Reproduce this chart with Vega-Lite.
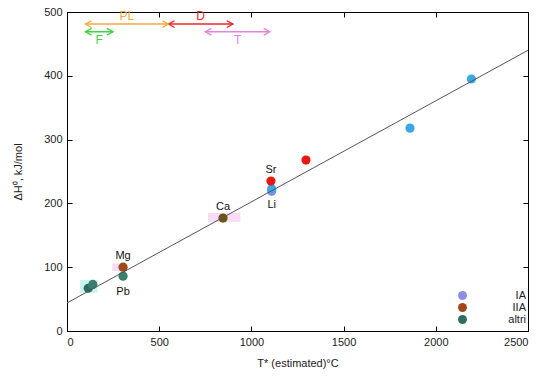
{
  "$schema": "https://vega.github.io/schema/vega-lite/v6.json",
  "width": 461,
  "height": 319,
  "autosize": "none",
  "padding": {"left": 67, "top": 12, "right": 22, "bottom": 45},
  "config": {
    "font": "Liberation Sans",
    "view": {"stroke": "black", "strokeWidth": 1},
    "axis": {"grid": false, "domainColor": "black", "tickColor": "black", "labelColor": "#222", "labelFontSize": 11, "titleFontSize": 11, "titleFontWeight": "normal", "titleColor": "#222", "tickSize": -5, "labelPadding": 10, "format": "d"}
  },
  "datasets": {
    "pts": [
      {"x": 115, "y": 67, "c": "altri", "lab": ""},
      {"x": 140, "y": 73, "c": "altri2", "lab": ""},
      {"x": 304, "y": 86, "c": "altri2", "lab": "Pb"},
      {"x": 304, "y": 100, "c": "IIA", "lab": "Mg"},
      {"x": 846, "y": 177, "c": "Ca", "lab": "Ca"},
      {"x": 1110, "y": 219, "c": "IA", "lab": ""},
      {"x": 1110, "y": 223, "c": "blue", "lab": "Li"},
      {"x": 1106, "y": 235, "c": "red", "lab": "Sr"},
      {"x": 1296, "y": 268, "c": "red", "lab": ""},
      {"x": 1860, "y": 318, "c": "blue", "lab": ""},
      {"x": 2193, "y": 395, "c": "blue", "lab": ""}
    ],
    "fit": [
      {"x": 0, "y": 44},
      {"x": 2500, "y": 440}
    ],
    "boxes": [
      {"x": 765, "x2": 940, "y": 171, "y2": 185, "bc": "#f9dcf3"},
      {"x": 245, "x2": 325, "y": 94, "y2": 106, "bc": "#f9dcf3"},
      {"x": 70, "x2": 165, "y": 60, "y2": 80, "bc": "#c9f5f0"}
    ],
    "arrows": [
      {"x1": 100, "x2": 550, "xm": 325, "y": 481, "lab": "PL", "col": "#f2a93b", "pos": "up"},
      {"x1": 550, "x2": 900, "xm": 725, "y": 481, "lab": "D", "col": "#e8262b", "pos": "up"},
      {"x1": 100, "x2": 250, "xm": 175, "y": 469, "lab": "F", "col": "#3fd23f", "pos": "down"},
      {"x1": 750, "x2": 1100, "xm": 925, "y": 469, "lab": "T", "col": "#e084e0", "pos": "down"}
    ]
  },
  "resolve": {"axis": {"x": "independent", "y": "independent"}},
  "layer": [
    {
      "data": {"name": "boxes"},
      "mark": {"type": "rect"},
      "encoding": {
        "x": {"field": "x", "type": "quantitative", "scale": {"domain": [0, 2500], "nice": false}, "axis": {"orient": "bottom", "values": [0, 500, 1000, 1500, 2000, 2500], "title": "T* (estimated)°C", "titlePadding": 10}},
        "x2": {"field": "x2"},
        "y": {"field": "y", "type": "quantitative", "scale": {"domain": [0, 500], "nice": false}, "axis": {"orient": "left", "values": [0, 100, 200, 300, 400, 500], "title": "ΔH⁰, kJ/mol", "titlePadding": 20}},
        "y2": {"field": "y2"},
        "fill": {"field": "bc", "type": "nominal", "scale": null, "legend": null}
      }
    },
    {
      "data": {"name": "pts"},
      "mark": {"type": "point", "filled": true, "opacity": 1, "size": 85},
      "encoding": {
        "x": {"field": "x", "type": "quantitative", "axis": null},
        "y": {"field": "y", "type": "quantitative", "axis": null},
        "color": {
          "field": "c", "type": "nominal",
          "scale": {"domain": ["IA", "IIA", "altri", "altri2", "Ca", "blue", "red"], "range": ["#8c8ce6", "#a2461b", "#2f6d60", "#3a7f6d", "#6c5213", "#3aa8e4", "#e81a10"]},
          "legend": {"values": ["IA", "IIA", "altri"], "orient": "none", "legendX": 390, "legendY": 278, "title": null, "labelAlign": "right", "labelOffset": 58, "labelFontSize": 11, "labelColor": "#222", "symbolSize": 80, "symbolType": "circle", "rowPadding": 0, "symbolStrokeWidth": 0, "symbolOpacity": 1}
        }
      }
    },
    {
      "data": {"name": "pts"},
      "transform": [{"filter": "datum.lab === 'Mg' || datum.lab === 'Ca' || datum.lab === 'Sr'"}],
      "mark": {"type": "text", "dy": -11, "fontSize": 11, "color": "#111"},
      "encoding": {
        "x": {"field": "x", "type": "quantitative", "axis": null},
        "y": {"field": "y", "type": "quantitative", "axis": null},
        "text": {"field": "lab"}
      }
    },
    {
      "data": {"name": "pts"},
      "transform": [{"filter": "datum.lab === 'Pb' || datum.lab === 'Li'"}],
      "mark": {"type": "text", "dy": 16, "fontSize": 11, "color": "#111"},
      "encoding": {
        "x": {"field": "x", "type": "quantitative", "axis": null},
        "y": {"field": "y", "type": "quantitative", "axis": null},
        "text": {"field": "lab"}
      }
    },
    {
      "data": {"name": "fit"},
      "mark": {"type": "line", "color": "#555", "strokeWidth": 1},
      "encoding": {
        "x": {"field": "x", "type": "quantitative", "axis": {"orient": "top", "labels": false, "title": null, "values": [0, 500, 1000, 1500, 2000, 2500], "domain": false}},
        "y": {"field": "y", "type": "quantitative", "axis": {"orient": "right", "labels": false, "title": null, "values": [0, 100, 200, 300, 400, 500], "domain": false}}
      }
    },
    {
      "data": {"name": "arrows"},
      "mark": {"type": "rule", "strokeWidth": 1.5},
      "encoding": {
        "x": {"field": "x1", "type": "quantitative", "axis": null},
        "x2": {"field": "x2"},
        "y": {"field": "y", "type": "quantitative", "axis": null},
        "stroke": {"field": "col", "type": "nominal", "scale": null, "legend": null}
      }
    },
    {
      "data": {"name": "arrows"},
      "mark": {"type": "point", "shape": "M1,-0.55L0,0L1,0.55", "filled": false, "size": 150, "strokeWidth": 1.3, "opacity": 1},
      "encoding": {
        "x": {"field": "x1", "type": "quantitative", "axis": null},
        "y": {"field": "y", "type": "quantitative", "axis": null},
        "stroke": {"field": "col", "type": "nominal", "scale": null, "legend": null}
      }
    },
    {
      "data": {"name": "arrows"},
      "mark": {"type": "point", "shape": "M-1,-0.55L0,0L-1,0.55", "filled": false, "size": 150, "strokeWidth": 1.3, "opacity": 1},
      "encoding": {
        "x": {"field": "x2", "type": "quantitative", "axis": null},
        "y": {"field": "y", "type": "quantitative", "axis": null},
        "stroke": {"field": "col", "type": "nominal", "scale": null, "legend": null}
      }
    },
    {
      "data": {"name": "arrows"},
      "transform": [{"filter": "datum.pos === 'up'"}],
      "mark": {"type": "text", "fontSize": 12, "dy": -8},
      "encoding": {
        "x": {"field": "xm", "type": "quantitative", "axis": null},
        "y": {"field": "y", "type": "quantitative", "axis": null},
        "text": {"field": "lab"},
        "fill": {"field": "col", "type": "nominal", "scale": null, "legend": null}
      }
    },
    {
      "data": {"name": "arrows"},
      "transform": [{"filter": "datum.pos === 'down'"}],
      "mark": {"type": "text", "fontSize": 12, "dy": 8},
      "encoding": {
        "x": {"field": "xm", "type": "quantitative", "axis": null},
        "y": {"field": "y", "type": "quantitative", "axis": null},
        "text": {"field": "lab"},
        "fill": {"field": "col", "type": "nominal", "scale": null, "legend": null}
      }
    }
  ]
}
